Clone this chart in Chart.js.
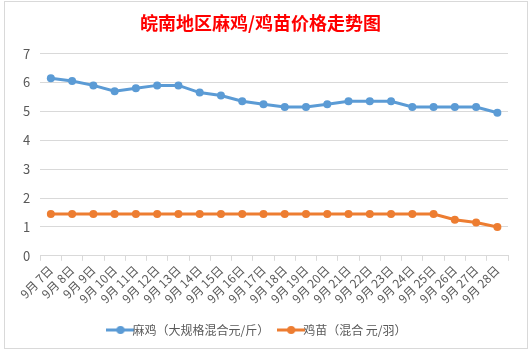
<!DOCTYPE html>
<html>
<head>
<meta charset="utf-8">
<script src="https://cdn.jsdelivr.net/npm/chart.js@4"></script>
<style>
  html, body { margin: 0; padding: 0; background: #fff; }
  #box { position: absolute; left: 4px; top: 1px; width: 524px; height: 348px; border: 1px solid #d9d9d9; box-sizing: border-box; }
</style>
</head>
<body>
<div id="box"><canvas id="c"></canvas></div>
<script>
// 日期
const days = ['9月 7日','9月 8日','9月 9日','9月 10日','9月 11日','9月 12日','9月 13日','9月 14日','9月 15日','9月 16日','9月 17日',
  '9月 18日','9月 19日','9月 20日','9月 21日','9月 22日','9月 23日','9月 24日','9月 25日','9月 26日','9月 27日','9月 28日'];
// 麻鸡 元/斤
const maji = [6.15, 6.05, 5.9, 5.7, 5.8, 5.9, 5.9, 5.65, 5.55, 5.35, 5.25, 5.15, 5.15, 5.25, 5.35, 5.35, 5.35, 5.15, 5.15, 5.15, 5.15, 4.95];
// 鸡苗 元/羽
const jimiao = [1.45, 1.45, 1.45, 1.45, 1.45, 1.45, 1.45, 1.45, 1.45, 1.45, 1.45, 1.45, 1.45, 1.45, 1.45, 1.45, 1.45, 1.45, 1.45, 1.25, 1.15, 1.0];
const yTicks = [0, 1, 2, 3, 4, 5, 6, 7];

const BLUE = '#5b9bd5', ORANGE = '#ed7d31';
const FONT = '"Microsoft YaHei", "Noto Sans CJK SC", sans-serif';

// legend marker: line + dot
function marker(color) {
  const cv = document.createElement('canvas');
  cv.width = 28; cv.height = 10;
  const g = cv.getContext('2d');
  g.strokeStyle = color; g.lineWidth = 3;
  g.beginPath(); g.moveTo(0, 5); g.lineTo(28, 5); g.stroke();
  g.fillStyle = color;
  g.beginPath(); g.arc(14, 5, 4, 0, Math.PI * 2); g.fill();
  return cv;
}

const series = (label, data, color) => ({
  label, data,
  borderColor: color, backgroundColor: color,
  borderWidth: 3, pointRadius: 4, pointHoverRadius: 4,
  pointBackgroundColor: color, pointBorderWidth: 0,
  tension: 0, pointStyle: 'circle'
});

new Chart(document.getElementById('c'), {
  type: 'line',
  data: {
    labels: days,
    datasets: [
      series('麻鸡（大规格混合元/斤）', maji, BLUE),
      series('鸡苗（混合 元/羽）', jimiao, ORANGE),
    ]
  },
  options: {
    responsive: true,
    maintainAspectRatio: false,
    animation: false,
    layout: { padding: { left: 8, right: 19, top: 3, bottom: 2 } },
    plugins: {
      title: {
        display: true, text: '皖南地区麻鸡/鸡苗价格走势图',
        color: '#ff0000', font: { family: FONT, size: 18, weight: 'bold' },
        padding: { top: 7, bottom: 20 }
      },
      legend: {
        position: 'bottom',
        labels: {
          color: '#595959', font: { family: FONT, size: 12 }, padding: 16,
          usePointStyle: true,
          generateLabels: ch => ch.data.datasets.map((d, i) => ({
            text: d.label, pointStyle: marker(d.borderColor), datasetIndex: i,
            fontColor: '#595959', lineWidth: 0, strokeStyle: 'transparent'
          }))
        }
      },
      tooltip: { enabled: false }
    },
    scales: {
      x: {
        offset: true,
        grid: { offset: true, drawOnChartArea: false, drawTicks: true, tickLength: 5, color: '#d9d9d9' },
        border: { color: '#d9d9d9' },
        ticks: { color: '#595959', font: { family: FONT, size: 12 }, maxRotation: 45, minRotation: 45, autoSkip: false, padding: 2 }
      },
      y: {
        min: 0, max: 7,
        afterBuildTicks: ax => { ax.ticks = yTicks.map(v => ({ value: v })); },
        grid: { color: '#d9d9d9', drawTicks: false },
        border: { display: false },
        ticks: { color: '#595959', font: { family: FONT, size: 13 }, padding: 10 }
      }
    }
  }
});
</script>
</body>
</html>
